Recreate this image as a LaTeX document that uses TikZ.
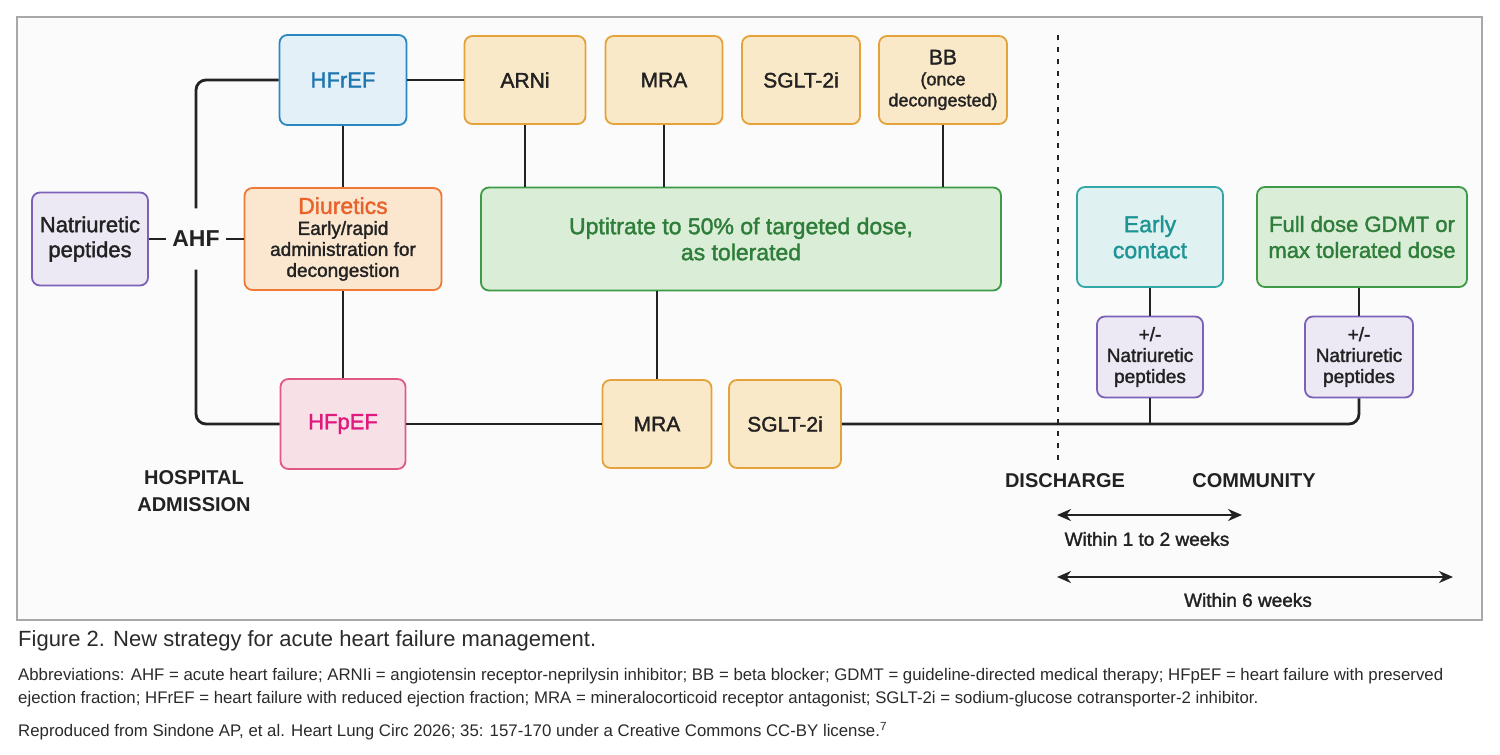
\documentclass[tikz,border=0pt]{standalone}
\usepackage{fontspec}
\setmainfont{Liberation Sans}
\newfontfamily\medfont{Liberation Sans}[FakeBold=1.6]
\usetikzlibrary{arrows.meta,positioning}
\definecolor{txt}{HTML}{222222}
\definecolor{frame}{HTML}{A8A8A8}
\definecolor{bg}{HTML}{FBFBFB}
\definecolor{npline}{HTML}{7B62B8}
\definecolor{npfill}{HTML}{ECE8F4}
\definecolor{rline}{HTML}{2A88C0}
\definecolor{rfill}{HTML}{E4F0F8}
\definecolor{rtext}{HTML}{1F77B0}
\definecolor{dline}{HTML}{EE7A35}
\definecolor{dfill}{HTML}{FBE6CF}
\definecolor{dtext}{HTML}{E8622A}
\definecolor{drugline}{HTML}{E3A33A}
\definecolor{drugfill}{HTML}{FAE9C8}
\definecolor{gline}{HTML}{3D9B47}
\definecolor{gfill}{HTML}{DAEDD6}
\definecolor{gtext}{HTML}{2F7D3A}
\definecolor{eline}{HTML}{33A6A6}
\definecolor{efill}{HTML}{E0F1F1}
\definecolor{etext}{HTML}{1F9494}
\definecolor{pline}{HTML}{E05A85}
\definecolor{pfill}{HTML}{F8E0E7}
\definecolor{ptext}{HTML}{E0197D}
\definecolor{captxt}{HTML}{2A2A2A}

\begin{document}
\begin{tikzpicture}[x=1pt, y=-1pt,
    box/.style={draw, rounded corners=8pt, line width=1.8pt, align=center, inner sep=2pt},
    drug/.style={box, draw=drugline, fill=drugfill, text=txt, font=\medfont\fontsize{21}{23}\selectfont, minimum height=88pt},
    npbox/.style={box, draw=npline, fill=npfill, text=txt},
    conn/.style={line width=2.8pt, draw=txt},
    weekspan/.style={{Stealth[length=14pt,width=12pt]}-{Stealth[length=14pt,width=12pt]}, line width=2.2pt, draw=txt},
    lbl/.style={font=\bfseries\fontsize{20}{27}\selectfont, align=center, text=txt},
    captext/.style={anchor=west, inner sep=0pt, text=captxt}
]
\useasboundingbox (0,0) rectangle (1500,755);
\draw[draw=frame, fill=bg, line width=2pt] (17,17) rectangle (1482,620);

\node[npbox, minimum width=116pt, minimum height=93pt, font=\medfont\fontsize{22}{25}\selectfont] (np) at (90,239) {Natriuretic\\peptides};
\node[font=\bfseries\fontsize{23}{26}\selectfont, text=txt, inner xsep=6pt, minimum height=61pt] (ahf) at (196,239) {AHF};
\node[box, draw=rline, fill=rfill, text=rtext, minimum width=127pt, minimum height=90pt, font=\medfont\fontsize{22}{26}\selectfont] (hfref) at (343,80) {HFrEF};
\node[box, draw=dline, fill=dfill, text=txt, minimum width=197pt, minimum height=102pt, font=\medfont\fontsize{19}{21}\selectfont] (diu) at (343,239) {{\color{dtext}\fontsize{23}{21}\selectfont Diuretics}\\Early/rapid\\administration for\\decongestion};
\node[box, draw=pline, fill=pfill, text=ptext, minimum width=125pt, minimum height=90pt, font=\medfont\fontsize{22}{26}\selectfont] (hfpef) at (343,424) {HFpEF};

\node[drug, minimum width=121pt] (arni) at (525,80) {ARNi};
\node[drug, minimum width=117pt] (mra) at (664,80) {MRA};
\node[drug, minimum width=118pt] (sglt) at (801,80) {SGLT-2i};
\node[drug, minimum width=128pt, font=\medfont\fontsize{18}{21}\selectfont] (bb) at (943,80) {{\fontsize{21}{21}\selectfont BB}\\(once\\decongested)};
\node[box, draw=gline, fill=gfill, text=gtext, minimum width=520pt, minimum height=103pt, font=\medfont\fontsize{23}{26}\selectfont] (up) at (741,239) {Uptitrate to 50\% of targeted dose,\\as tolerated};
\node[drug, minimum width=109pt] (mra2) at (657,424) {MRA};
\node[drug, minimum width=112pt] (sglt2) at (785,424) {SGLT-2i};

\node[box, draw=eline, fill=efill, text=etext, minimum width=146pt, minimum height=100pt, font=\medfont\fontsize{23}{26}\selectfont] (early) at (1150,237) {Early\\contact};
\node[box, draw=gline, fill=gfill, text=gtext, minimum width=210pt, minimum height=100pt, font=\medfont\fontsize{22}{26}\selectfont] (full) at (1362,237) {Full dose GDMT or\\max tolerated dose};
\node[npbox, minimum width=106pt, minimum height=81pt, font=\medfont\fontsize{19}{21}\selectfont] (np1) at (1150,357) {+/-\\Natriuretic\\peptides};
\node[npbox, minimum width=108pt, minimum height=81pt, font=\medfont\fontsize{19}{21}\selectfont] (np2) at (1359,357) {+/-\\Natriuretic\\peptides};

\node[lbl] (hosp) at (194,491) {HOSPITAL\\ADMISSION};
\node[lbl] (dis) at (1065,481) {DISCHARGE};
\node[lbl] (com) at (1254,481) {COMMUNITY};

\draw[conn] (np) -- (ahf);
\draw[conn] (ahf) -- (diu);
\draw[conn, rounded corners=10pt] (hfref.west) -| (ahf.north);
\draw[conn, rounded corners=10pt] (hfpef.west) -| (ahf.south);
\draw[conn] (hfref) -- (diu);
\draw[conn] (diu) -- (hfpef);
\draw[conn] (hfref) -- (arni);
\draw[conn] (arni.south) -- (arni.south |- up.north);
\draw[conn] (mra.south) -- (mra.south |- up.north);
\draw[conn] (bb.south) -- (bb.south |- up.north);
\draw[conn] (up.south -| mra2.north) -- (mra2.north);
\draw[conn] (hfpef) -- (mra2);
\draw[conn, rounded corners=10pt] (sglt2.east) -| (np2.south);
\draw[conn] (np1.south) -- (np1.south |- sglt2.east);
\draw[conn] (early) -- (np1);
\draw[conn] (np2.north |- full.south) -- (np2.north);

\coordinate (dtop) at (1058,35);
\coordinate (dbot) at (1058,466);
\draw[line width=2.2pt, draw=txt, dash pattern=on 5pt off 7pt] (dtop) -- (dbot);

\coordinate (s1) at (1057,515);
\coordinate (e1) at (1242,515);
\draw[weekspan] (s1) -- (e1);
\node[font=\medfont\fontsize{19}{21}\selectfont, text=txt] (wk2) at (1147,539) {Within 1 to 2 weeks};
\coordinate (s2) at (1057,577);
\coordinate (e2) at (1453,577);
\draw[weekspan] (s2) -- (e2);
\node[font=\medfont\fontsize{19}{21}\selectfont, text=txt] (wk6) at (1248,600) {Within 6 weeks};

\node[captext, font=\fontsize{22}{24}\selectfont] (fig) at (18,641) {Figure 2. New strategy for acute heart failure management.};
\node[captext, font=\fontsize{16.8}{18}\selectfont] (abb1) at (18,676) {Abbreviations: AHF = acute heart failure; ARNIi = angiotensin receptor-neprilysin inhibitor; BB = beta blocker; GDMT = guideline-directed medical therapy; HFpEF = heart failure with preserved};
\node[captext, font=\fontsize{16.8}{18}\selectfont] (abb2) at (18,699) {ejection fraction; HFrEF = heart failure with reduced ejection fraction; MRA = mineralocorticoid receptor antagonist; SGLT-2i = sodium-glucose cotransporter-2 inhibitor.};
\node[captext, font=\fontsize{16.8}{18}\selectfont] (src) at (18,731) {Reproduced from Sindone AP, et al. Heart Lung Circ 2026; 35: 157-170 under a Creative Commons CC-BY license.\textsuperscript{7}};
\end{tikzpicture}
\end{document}
